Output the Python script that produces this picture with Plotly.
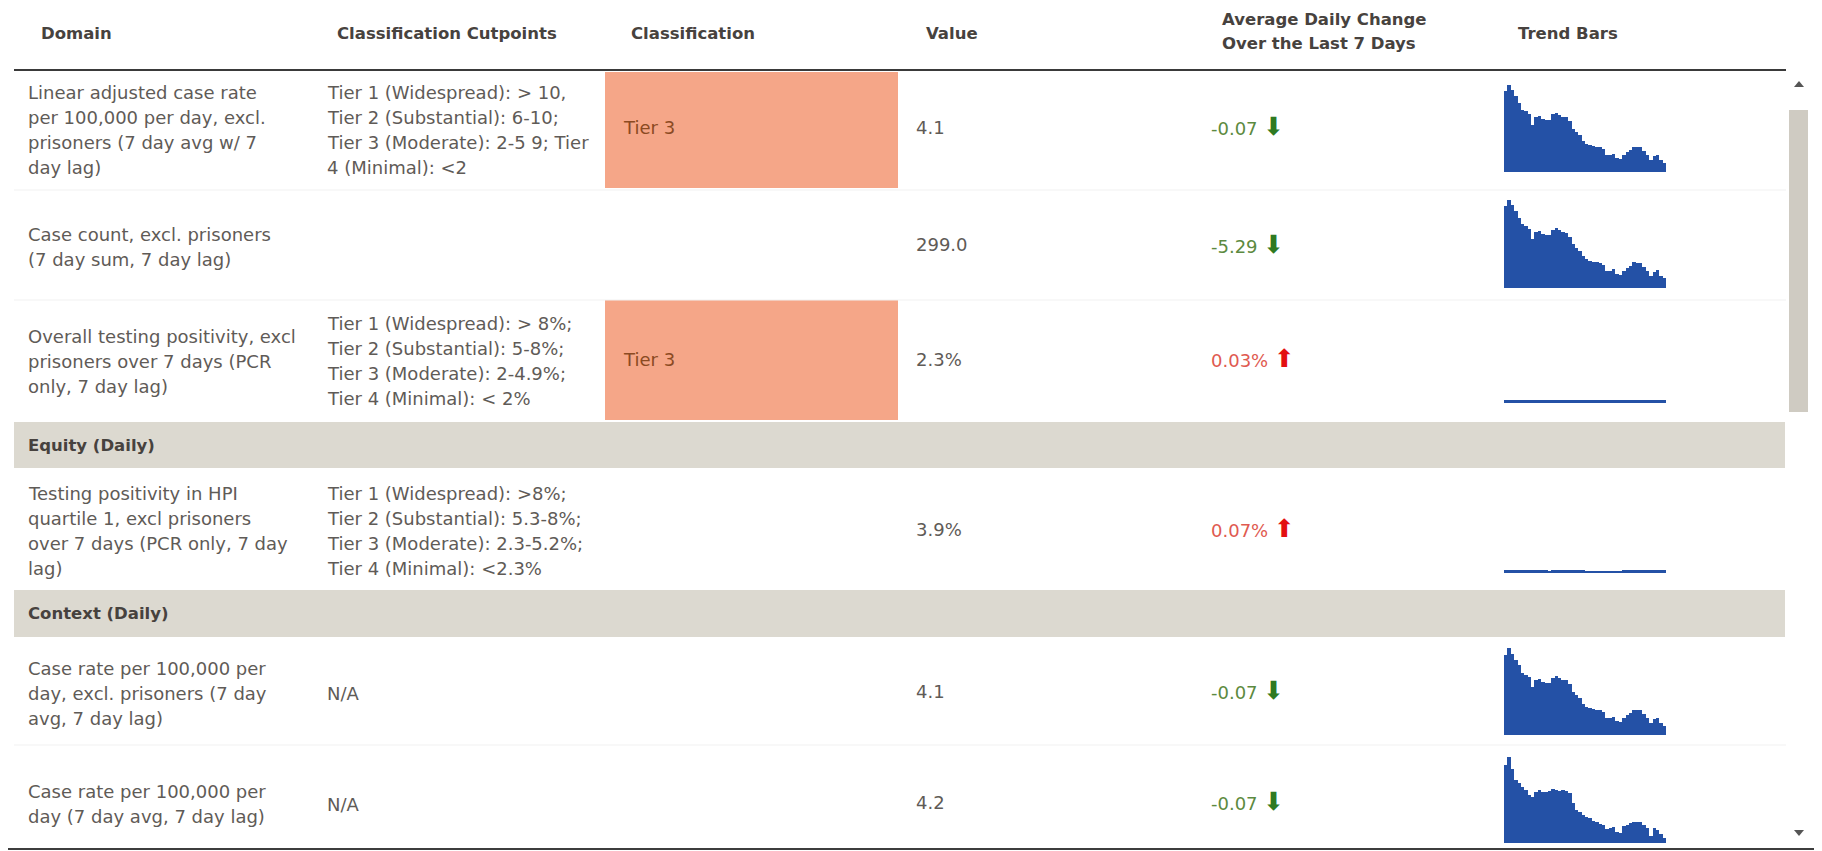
import plotly.graph_objects as go

# Screen size in pixels; every position below is given in screen pixels
W, H = 1822, 851
OFF = 8                      # default page margin around the plot div
FW, FH = W - OFF, H - OFF    # figure size so it ends at the window edge

headers = ["Domain", "Classification Cutpoints", "Classification", "Value",
           "Average Daily Change<br>Over the Last 7 Days", "Trend Bars"]

domains = [
    "Linear adjusted case rate<br>per 100,000 per day, excl.<br>prisoners (7 day avg w/ 7<br>day lag)",
    "Case count, excl. prisoners<br>(7 day sum, 7 day lag)",
    "Overall testing positivity, excl<br>prisoners over 7 days (PCR<br>only, 7 day lag)",
    "Testing positivity in HPI<br>quartile 1, excl prisoners<br>over 7 days (PCR only, 7 day<br>lag)",
    "Case rate per 100,000 per<br>day, excl. prisoners (7 day<br>avg, 7 day lag)",
    "Case rate per 100,000 per<br>day (7 day avg, 7 day lag)",
]

cutpoints = [
    "Tier 1 (Widespread): &gt; 10,<br>Tier 2 (Substantial): 6-10;<br>Tier 3 (Moderate): 2-5 9; Tier<br>4 (Minimal): &lt;2",
    "",
    "Tier 1 (Widespread): &gt; 8%;<br>Tier 2 (Substantial): 5-8%;<br>Tier 3 (Moderate): 2-4.9%;<br>Tier 4 (Minimal): &lt; 2%",
    "Tier 1 (Widespread): &gt;8%;<br>Tier 2 (Substantial): 5.3-8%;<br>Tier 3 (Moderate): 2.3-5.2%;<br>Tier 4 (Minimal): &lt;2.3%",
    "N/A",
    "N/A",
]

classifications = ["Tier 3", "", "Tier 3", "", "", ""]
values = ["4.1", "299.0", "2.3%", "3.9%", "4.1", "4.2"]
changes = [-0.07, -5.29, 0.03, 0.07, -0.07, -0.07]
change_pct = [False, False, True, True, False, False]

sections = ["Equity (Daily)", "Context (Daily)"]

# trend bar series (daily values, oldest first)
trend_case_rate = [10.2, 11.0, 10.4, 9.6, 8.7, 7.9, 7.7, 7.3, 6.0, 7.0, 7.1, 6.7,
                   6.6, 6.6, 7.3, 7.4, 7.2, 7.0, 6.9, 6.4, 5.5, 5.0, 4.7, 3.9,
                   3.6, 3.4, 3.3, 3.2, 3.2, 2.9, 2.1, 2.2, 2.3, 1.8, 1.6, 2.1,
                   2.5, 2.8, 3.2, 3.2, 3.1, 2.6, 2.1, 1.5, 2.0, 2.2, 1.5, 1.2]
trend_case_count = [715, 768, 726, 668, 612, 556, 538, 515, 424, 488, 497, 468,
                    462, 460, 510, 520, 503, 492, 481, 446, 386, 352, 327, 275,
                    250, 240, 229, 226, 222, 204, 149, 152, 163, 124, 114, 146,
                    176, 195, 226, 222, 218, 180, 148, 107, 139, 156, 104, 86]
trend_positivity = [2.3, 2.3, 2.3, 2.3, 2.3, 2.3, 2.3, 2.3, 2.3, 2.3, 2.3, 2.3,
                    2.3, 2.3, 2.3, 2.3, 2.3, 2.3, 2.3, 2.3, 2.3, 2.3, 2.3, 2.3,
                    2.3, 2.3, 2.3, 2.3, 2.3, 2.3, 2.3, 2.3, 2.3, 2.3, 2.3, 2.3,
                    2.3, 2.3, 2.3, 2.3, 2.3, 2.3, 2.3, 2.3, 2.3, 2.3, 2.3, 2.3]
trend_hpi_positivity = [3.9, 3.9, 3.9, 3.9, 3.9, 3.9, 3.9, 3.9, 3.9, 3.9, 3.9, 3.9,
                        3.9, 2.7, 3.9, 3.9, 3.9, 3.9, 3.9, 3.9, 3.9, 3.9, 3.9, 3.9,
                        2.7, 2.7, 2.7, 2.7, 2.7, 2.7, 2.7, 2.7, 2.7, 2.7, 2.7, 3.9,
                        3.9, 3.9, 3.9, 3.9, 3.9, 3.9, 3.9, 3.9, 3.9, 3.9, 3.9, 3.9]
trend_case_rate_ctx = [10.1, 11.0, 10.3, 9.5, 8.8, 7.9, 7.6, 7.3, 6.1, 7.0, 7.1, 6.7,
                       6.6, 6.6, 7.2, 7.4, 7.2, 7.0, 6.9, 6.4, 5.5, 5.0, 4.7, 3.9,
                       3.6, 3.4, 3.3, 3.2, 3.2, 2.9, 2.1, 2.2, 2.3, 1.8, 1.6, 2.1,
                       2.5, 2.8, 3.2, 3.2, 3.1, 2.6, 2.1, 1.5, 2.0, 2.2, 1.5, 1.2]
trend_case_rate_all = [10.1, 11.2, 9.7, 8.2, 7.8, 7.3, 6.9, 6.2, 6.0, 6.7, 6.9, 6.7,
                       6.7, 6.8, 7.0, 6.9, 6.8, 6.9, 6.8, 6.5, 5.2, 4.3, 4.0, 3.7,
                       3.4, 3.2, 2.9, 2.8, 2.5, 2.4, 1.8, 1.9, 2.1, 1.4, 1.3, 2.2,
                       2.4, 2.6, 2.8, 2.8, 2.7, 2.4, 1.9, 0.9, 1.9, 1.7, 1.2, 0.6]

trends = [trend_case_rate, trend_case_count, trend_positivity,
          trend_hpi_positivity, trend_case_rate_ctx, trend_case_rate_all]
trend_ymax = [None, None, 60, 100, None, None]   # None -> scale to own peak

# ---- layout geometry (screen pixels) ----
row_mid = [130, 247, 361, 531, 693, 804]
line_step = 25
spark_box = [(85, 172), (200, 288), (315, 403), (485, 573), (648, 735), (757, 843)]
spark_x = (1504, 1666)
tier_box = {0: (72, 188), 2: (300, 420)}
section_band = [(422, 468), (590, 637)]
col_x = [26, 325, 621, 914, 1209]
head_x = [39, 335, 629, 924, 1220, 1516]

FONT = "DejaVu Sans"
TXT = "#5f5b57"
HEAD = "#47423e"
BAR = "#2451a6"


def px(x):
    return (x - OFF) / FW


def py(y):
    return 1 - (y - OFF) / FH


annotations = []
shapes = []


def add_text(x, y, text, size=18, color=TXT, bold=False):
    if bold:
        text = "<b>" + text + "</b>"
    annotations.append(dict(x=px(x), y=py(y), xref="paper", yref="paper",
                            text=text, showarrow=False, xanchor="left",
                            yanchor="middle",
                            font=dict(family=FONT, size=size, color=color)))


def add_lines(x, mid, text, **kw):
    lines = text.split("<br>")
    n = len(lines)
    for i, ln in enumerate(lines):
        add_text(x, mid + (i - (n - 1) / 2) * line_step, ln, **kw)


def add_rect(x0, y0, x1, y1, color, layer="below"):
    shapes.append(dict(type="rect", xref="paper", yref="paper",
                       x0=px(x0), x1=px(x1), y0=py(y1), y1=py(y0),
                       fillcolor=color, line=dict(width=0), layer=layer))


def add_hline(y, x0, x1, color, width):
    shapes.append(dict(type="line", xref="paper", yref="paper",
                       x0=px(x0), x1=px(x1), y0=py(y), y1=py(y),
                       line=dict(color=color, width=width)))


# header
for i, h in enumerate(headers):
    if "<br>" in h:
        for j, part in enumerate(h.split("<br>")):
            add_text(head_x[i], 20 + j * 24, part, size=16.5, color=HEAD, bold=True)
    else:
        add_text(head_x[i], 33, h, size=16.5, color=HEAD, bold=True)
add_hline(70, 14, 1786, "#3a3a3a", 2)

# faint row separators
for y in [190, 300, 745]:
    add_hline(y, 14, 1786, "#f1f1f1", 1)

# section bands
for (y0, y1), name in zip(section_band, sections):
    add_rect(14, y0, 1785, y1, "#dcd9d0")
    add_text(col_x[0], (y0 + y1) / 2, name, size=16.5, color=HEAD, bold=True)

# table rows
for r in range(len(domains)):
    mid = row_mid[r]
    add_lines(col_x[0], mid, domains[r])
    if cutpoints[r]:
        add_lines(col_x[1], mid, cutpoints[r])
    if classifications[r]:
        y0, y1 = tier_box[r]
        add_rect(605, y0, 898, y1, "#f5a688")
        add_text(col_x[2], mid - 2, classifications[r], color="#8b4a22")
    add_text(col_x[3], mid - 2, values[r])
    ch = changes[r]
    s = f"{ch:.2f}" + ("%" if change_pct[r] else "")
    if ch < 0:
        txt = (f"<span style='color:#5c8a40'>{s}</span> "
               f"<span style='color:#2f7a22;font-size:25px'>⬇</span>")
    else:
        txt = (f"<span style='color:#e05a50'>{s}</span> "
               f"<span style='color:#e31010;font-size:25px'>⬆</span>")
    add_text(col_x[4], mid - 3, txt)

# scrollbar
add_rect(1789, 110, 1808, 412, "#cfcbc2")
shapes.append(dict(type="path", xref="paper", yref="paper",
                   path=f"M {px(1794)} {py(87)} L {px(1804)} {py(87)} L {px(1799)} {py(81)} Z",
                   fillcolor="#555555", line=dict(width=0)))
shapes.append(dict(type="path", xref="paper", yref="paper",
                   path=f"M {px(1794)} {py(830)} L {px(1804)} {py(830)} L {px(1799)} {py(836)} Z",
                   fillcolor="#555555", line=dict(width=0)))

# bottom border
add_hline(849, OFF, W, "#3d3d3d", 2)

fig = go.Figure()
layout_axes = {}
for i, series in enumerate(trends):
    k = i + 2
    fig.add_trace(go.Bar(x=list(range(len(series))), y=series,
                         xaxis=f"x{k}", yaxis=f"y{k}",
                         marker=dict(color=BAR, line=dict(width=0)),
                         showlegend=False, hoverinfo="y"))
    top, bot = spark_box[i]
    ymax = trend_ymax[i] if trend_ymax[i] else max(series)
    layout_axes[f"xaxis{k}"] = dict(domain=[px(spark_x[0]), px(spark_x[1])],
                                    anchor=f"y{k}", visible=False,
                                    range=[-0.5, len(series) - 0.5], fixedrange=True)
    layout_axes[f"yaxis{k}"] = dict(domain=[py(bot), py(top)], anchor=f"x{k}",
                                    visible=False, range=[0, ymax], fixedrange=True)

fig.update_layout(
    width=FW, height=FH,
    margin=dict(l=0, r=0, t=0, b=0),
    paper_bgcolor="white", plot_bgcolor="rgba(0,0,0,0)",
    bargap=0,
    xaxis=dict(visible=False), yaxis=dict(visible=False),
    annotations=annotations, shapes=shapes,
    **layout_axes,
)

fig.write_html("out.html")
